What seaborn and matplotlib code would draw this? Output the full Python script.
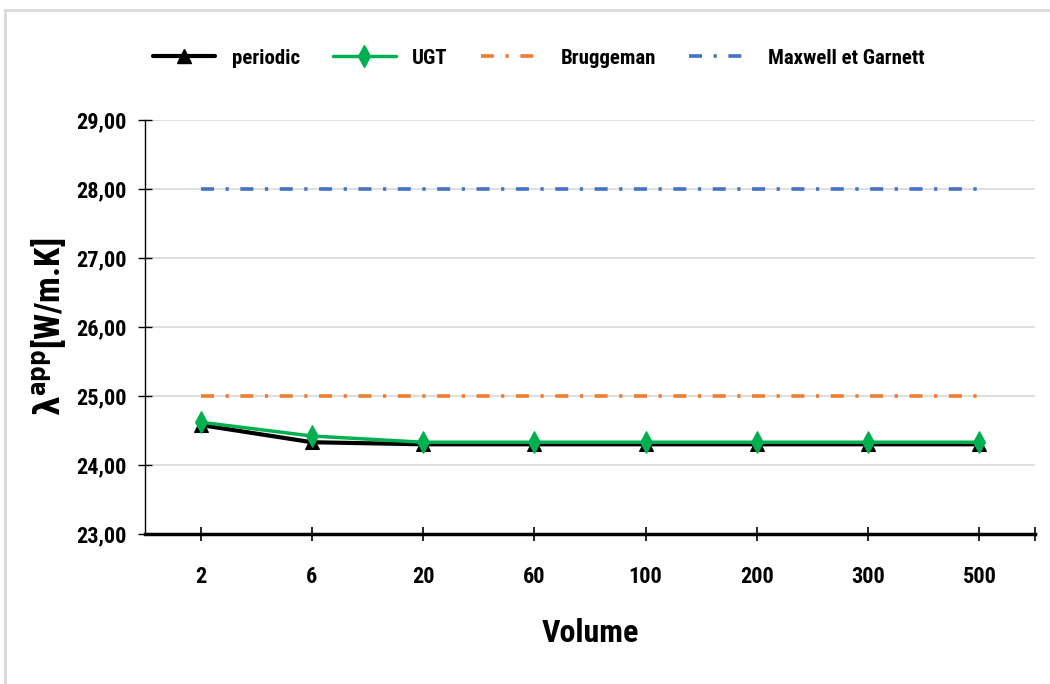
import matplotlib
matplotlib.use("Agg")
import matplotlib.pyplot as plt
import seaborn as sns
import pandas as pd
from matplotlib.ticker import FuncFormatter, FixedLocator
from matplotlib.lines import Line2D
from matplotlib import font_manager

volumes = ["2", "6", "20", "60", "100", "200", "300", "500"]
periodic = [24.58, 24.33, 24.30, 24.30, 24.30, 24.30, 24.30, 24.30]
ugt = [24.62, 24.42, 24.33, 24.33, 24.33, 24.33, 24.33, 24.33]
bruggeman = [25.0] * 8
maxwell = [28.0] * 8

sns.set_theme(style="white")
names = {f.name for f in font_manager.fontManager.ttflist}
cands = ["Liberation Sans Narrow", "DejaVu Sans Condensed", "Roboto Condensed",
         "Open Sans Condensed", "DejaVu Sans"]
fam = [c for c in cands if c in names] or ["DejaVu Sans"]
plt.rcParams["font.family"] = fam
plt.rcParams["font.stretch"] = "condensed"
for k in ["text.color", "axes.labelcolor", "xtick.color", "ytick.color"]:
    plt.rcParams[k] = "black"

fig = plt.figure(figsize=(10.5, 6.84), dpi=100)
ax = fig.add_axes([145 / 1050, 150 / 684, 890 / 1050, 414 / 684])

pos = list(range(len(volumes)))
df = pd.DataFrame({"x": pos, "periodic": periodic, "UGT": ugt,
                   "Bruggeman": bruggeman, "Maxwell et Garnett": maxwell})

dash = (0, (3.6, 3.2, 0.9, 3.2))
sns.lineplot(data=df, x="x", y="Maxwell et Garnett", ax=ax, color="#4472C4",
             lw=2.6, label="Maxwell et Garnett")
sns.lineplot(data=df, x="x", y="Bruggeman", ax=ax, color="#ED7D31",
             lw=2.6, label="Bruggeman")
sns.lineplot(data=df, x="x", y="periodic", ax=ax, color="black", lw=3,
             marker="^", markersize=10, markeredgecolor="black", label="periodic")
sns.lineplot(data=df, x="x", y="UGT", ax=ax, color="#00B050", lw=2.5,
             marker="d", markersize=11, markeredgecolor="#00B050", label="UGT")

for ln in ax.lines[:2]:
    ln.set_linestyle(dash)

ax.set_xlim(-0.5, 7.5)
ax.set_ylim(23, 29)
ax.set_yticks([23, 24, 25, 26, 27, 28, 29])
ax.yaxis.set_major_formatter(FuncFormatter(lambda v, p: f"{v:.2f}".replace(".", ",")))
ax.xaxis.set_major_locator(FixedLocator(pos))
ax.set_xticklabels(volumes)
ax.xaxis.set_minor_locator(FixedLocator([7.5]))

ax.grid(axis="y", color="#D9D9D9", lw=1.2)
ax.set_axisbelow(True)
for s in ["top", "right"]:
    ax.spines[s].set_visible(False)
ax.spines["left"].set_color("black")
ax.spines["left"].set_linewidth(1.0)
ax.spines["bottom"].set_color("black")
ax.spines["bottom"].set_linewidth(2.5)

ax.tick_params(axis="y", which="both", direction="inout", length=10, width=1,
               color="black", left=True, labelsize=16, pad=8)
ax.tick_params(axis="x", which="both", direction="inout", length=10, width=1.2,
               color="black", bottom=True, labelsize=16, pad=18)
for t in ax.get_xticklabels() + ax.get_yticklabels():
    t.set_fontweight("bold")
    t.set_fontstretch("condensed")

ax.set_xlabel("Volume", fontsize=23, fontweight="bold", labelpad=22,
              fontstretch="condensed")
ax.set_ylabel(r"$\mathbf{\lambda}^{\mathbf{app}}$[W/m.K]", fontsize=25,
              fontweight="bold", labelpad=6)

ax.get_legend().remove()
handles = [
    Line2D([], [], color="black", lw=3, marker="^", markersize=10),
    Line2D([], [], color="#00B050", lw=2.5, marker="d", markersize=11),
    Line2D([], [], color="#ED7D31", lw=2.6, linestyle=dash),
    Line2D([], [], color="#4472C4", lw=2.6, linestyle=dash),
]
labels = ["periodic", "UGT", "Bruggeman", "Maxwell et Garnett"]
fig.legend(handles, labels, loc="center", bbox_to_anchor=(0.513, 1 - 58 / 684),
           ncol=4, frameon=False, columnspacing=1.6, handlelength=3.0,
           handletextpad=0.8,
           prop={"family": fam, "weight": "bold", "size": 15,
                 "stretch": "condensed"})

fig.add_artist(Line2D([5 / 1050, 5 / 1050], [0, 1 - 10 / 684],
                      transform=fig.transFigure, color="#D9D9D9", lw=2))
fig.add_artist(Line2D([5 / 1050, 1], [1 - 10 / 684, 1 - 10 / 684],
                      transform=fig.transFigure, color="#D9D9D9", lw=2))

fig.savefig("out.png", dpi=100, facecolor="white")
